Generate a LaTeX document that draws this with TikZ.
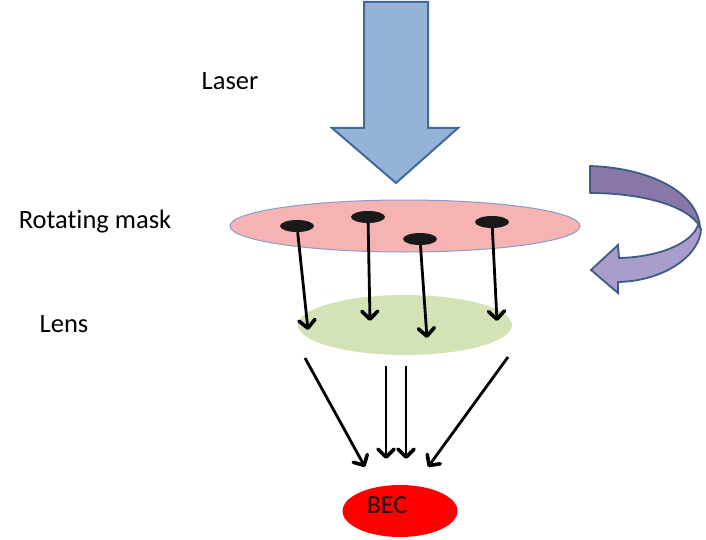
\documentclass[tikz,border=0pt]{standalone}
\usepackage{fontspec}
\setmainfont{Carlito}[Ligatures=NoCommon]
\usepackage{xcolor}
\usepackage{tikz}
\usetikzlibrary{shapes,arrows.meta,positioning}

\definecolor{laserfill}{HTML}{95B3D7}
\definecolor{laserline}{HTML}{41699A}
\definecolor{maskfill}{HTML}{F6B3B3}
\definecolor{maskline}{HTML}{8A9BC9}
\definecolor{lensfill}{HTML}{D3E3B5}
\definecolor{turndark}{HTML}{8878A9}
\definecolor{turnlight}{HTML}{AA9DCB}
\definecolor{turnline}{HTML}{3D5B83}
\definecolor{becfill}{HTML}{FF0000}

\begin{document}
\begin{tikzpicture}[
    x=1pt, y=-1pt,
    caption/.style={anchor=base, font=\fontsize{26.5}{30}\selectfont},
    disc/.style={ellipse, inner sep=0pt},
    hole/.style={ellipse, fill=black!90, minimum width=34pt, minimum height=12pt, inner sep=0pt},
    arrow/.style={line width=2.8pt, -{Straight Barb[length=8pt,width=16pt,line width=3.6pt,round]}}
]
\useasboundingbox (0,0) rectangle (706,540);

% Labels
\node[caption] (laserlbl) at (230,90) {Laser};
\node[caption] (masklbl) at (95,228) {Rotating mask};
\node[caption] (lenslbl) at (64,332) {Lens};

% Laser beam
\draw[laserline, line width=2pt, fill=laserfill, line join=miter]
  (364,2) -- (428,2) -- (428,128) -- (458,128) -- (396,183) -- (332,128) -- (364,128) -- cycle;

% Rotation arrow
\draw[turnline, line width=1.8pt, fill=turnlight, line join=miter]
  (701,229) .. controls (700,255) and (665,281) .. (618,282) -- (618,293) -- (591,270)
  -- (618,245) -- (619,258) .. controls (660,257) and (692,243) .. (698,225) -- cycle;
\draw[turnline, line width=1.8pt, fill=turndark, line join=round]
  (590,166) .. controls (650,168) and (697,192) .. (700,227)
  .. controls (688,205) and (640,193) .. (590,193) -- cycle;

% Mask and holes
\node[disc, draw=maskline, line width=1pt, fill=maskfill, minimum width=350pt, minimum height=52pt] (mask) at (405,226) {};
\node[hole] (hole1) at (297,226) {};
\node[hole] (hole2) at (368,217) {};
\node[hole] (hole3) at (420,239) {};
\node[hole] (hole4) at (492,222) {};

% Lens
\node[disc, fill=lensfill, minimum width=214pt, minimum height=60pt] (lens) at (405,325) {};

% BEC
\node[disc, fill=becfill, minimum width=115pt, minimum height=52pt] (bec) at (400,511) {};
\node[anchor=base, text=black!85!red, font=\fontsize{26}{30}\selectfont] (beclbl) at (387,513) {BEC};

% Beams through the mask
\coordinate (t1) at (308,330);
\coordinate (t2) at (370,321);
\coordinate (t3) at (427,338);
\coordinate (t4) at (497,321);
\draw[arrow] (hole1) -- (t1);
\draw[arrow] (hole2) -- (t2);
\draw[arrow] (hole3) -- (t3);
\draw[arrow] (hole4) -- (t4);

% Beams after the lens
\coordinate (s1) at (305,358);
\coordinate (s2) at (386,366);
\coordinate (s3) at (406,366);
\coordinate (s4) at (508,357);
\coordinate (b1) at (365,467);
\coordinate (b2) at (386,459);
\coordinate (b3) at (406,459);
\coordinate (b4) at (428,467);
\draw[arrow] (s1) -- (b1);
\draw[arrow] (s2) -- (b2);
\draw[arrow] (s3) -- (b3);
\draw[arrow] (s4) -- (b4);

\end{tikzpicture}
\end{document}
